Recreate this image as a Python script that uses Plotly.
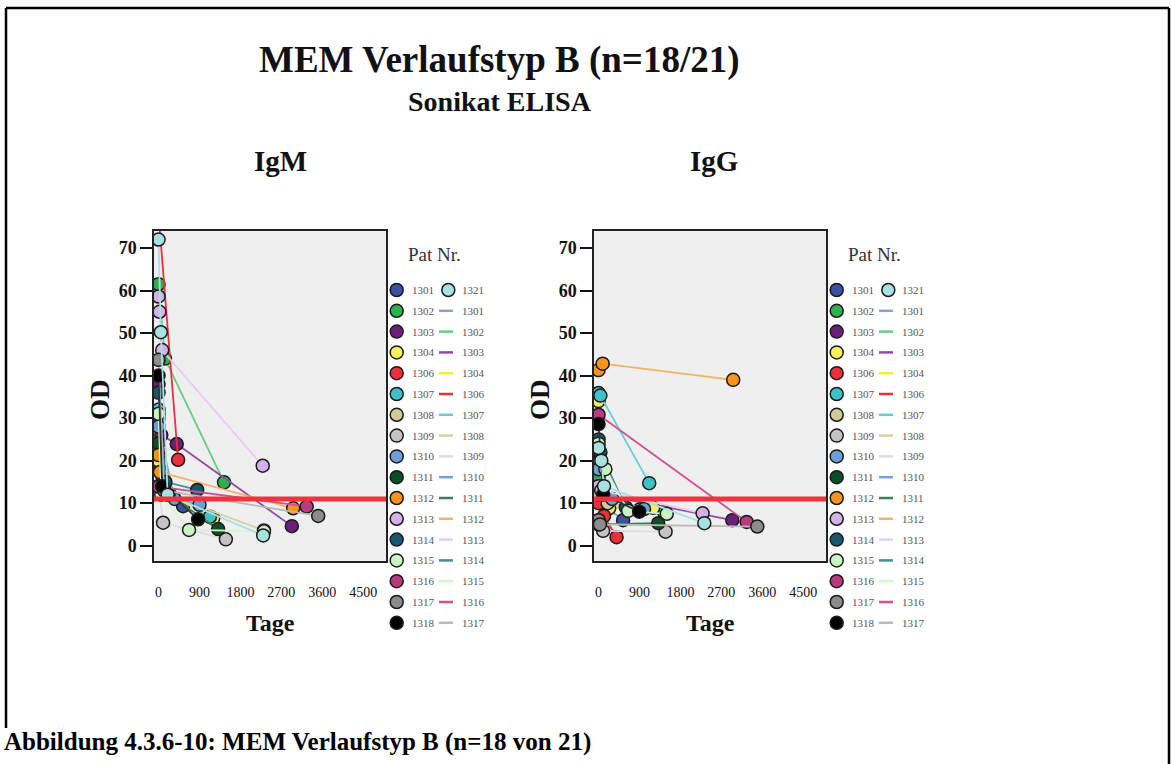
import plotly.graph_objects as go

W, H = 1171, 764

# Patient numbers and their SPSS-style colours
patients = ["1301", "1302", "1303", "1304", "1306", "1307", "1308", "1309", "1310",
            "1311", "1312", "1313", "1314", "1315", "1316", "1317", "1318", "1321"]
marker_colors = ["#3b52a3", "#2bb34b", "#6a1f78", "#f6f05c", "#ec2f3b", "#3ec1c9",
                 "#cfcb95", "#c4c4c4", "#6d9fd6", "#0d4d2a", "#f7941d", "#d5b1ec",
                 "#17566b", "#c9f5c2", "#b83a7f", "#8c8c8c", "#000000", "#a9e1e1"]
line_colors = ["#8ea0da", "#62d07f", "#944aa3", "#f2ec3a", "#ec2f3b", "#5fd2d9",
               "#d6d2a6", "#dedede", "#6fa5dc", "#3d7d58", "#f8b05e", "#e7cdf5",
               "#4a8a9c", "#d2f8ca", "#d24f90", "#b9b9b9", "#333333", "#a9e1e1"]

# IgM: days since first sample and OD per patient (same order as patients)
igm_days = [
    [0, 30, 540],
    [0, 140, 1440],
    [0, 60, 400, 2930],
    [0, 90, 250, 1200],
    [0, 430],
    [0, 120, 1130],
    [0, 200, 2317],
    [0, 100, 1480],
    [0, 350, 900],
    [0, 220, 1310],
    [0, 30, 2960],
    [0, 20, 80, 2290],
    [0, 150, 850],
    [0, 60, 670, 2317],
    [0, 3256],
    [0, 120, 3510],
    [0, 80, 870],
    [0, 50, 200, 2300],
]
igm_od = [
    [30, 18, 9.3],
    [61.5, 44, 14.9],
    [38, 26, 23.9, 4.6],
    [20, 16, 12, 6.4],
    [78, 20.2],
    [32, 14, 6.8],
    [22, 12, 3.6],
    [14, 5.4, 1.5],
    [28, 11, 9.6],
    [24.1, 12, 3.9],
    [21.3, 17.3, 8.8],
    [58.6, 55, 46, 18.8],
    [36, 15, 13.1],
    [31, 12, 3.7, 3.4],
    [13.9, 9.2],
    [43.7, 13, 7.0],
    [40, 14, 6.2],
    [72, 50.2, 12, 2.4],
]

# IgG: days since first sample and OD per patient
igg_days = [
    [0, 60, 540],
    [0, 150, 1440],
    [0, 100, 2940],
    [0, 30, 233, 1200],
    [0, 120, 396],
    [0, 40, 1114],
    [0, 200, 900],
    [0, 100, 1474],
    [0, 300, 1000],
    [0, 1312],
    [0, 90, 2960],
    [0, 60, 2287],
    [0, 40, 600],
    [0, 150, 651, 1500],
    [0, 3256],
    [0, 30, 3490],
    [0, 100, 893],
    [0, 60, 120, 2325],
]
igg_od = [
    [20, 10, 6.0],
    [16, 10, 7.9],
    [14, 12, 6.0],
    [34, 20, 8.8, 8.9],
    [10, 7, 2.0],
    [35.9, 35.3, 14.7],
    [12, 10, 8.5],
    [6, 3.5, 3.3],
    [18, 11, 8.6],
    [5.0, 5.3],
    [41.3, 42.8, 39.0],
    [14, 13, 7.6],
    [25, 22, 9],
    [24, 18, 8.2, 7.5],
    [30.8, 5.6],
    [6, 5, 4.5],
    [28.6, 12, 8.0],
    [23, 20, 14, 5.3],
]

cutoff_od = 11
x_tickvals = [0, 900, 1800, 2700, 3600, 4500]
y_tickvals = [0, 10, 20, 30, 40, 50, 60, 70]

# legend columns: first column markers, second column 1321 marker then line samples
legend_col1 = patients[:17]
legend_col2 = [("marker", "1321")] + [("line", p) for p in patients[:16]]

SERIF = "Liberation Serif"


def fx(px):
    return px / W


def fy(py):
    return 1 - py / H


fig = go.Figure()

panels = [("x", "y", igm_days, igm_od), ("x2", "y2", igg_days, igg_od)]
for xa, ya, days, ods in panels:
    for i, p in enumerate(patients):
        fig.add_trace(go.Scatter(
            x=days[i], y=ods[i], xaxis=xa, yaxis=ya, mode="lines+markers",
            name=p, showlegend=False, cliponaxis=True,
            line=dict(color=line_colors[i], width=1.8),
            marker=dict(size=13, color=marker_colors[i],
                        line=dict(color="#1a1a1a", width=1.5)),
        ))

plot_top, plot_bottom = 231, 561
panel_x = [(154, 386), (594, 826)]

axis_common_x = dict(
    range=[-100, 5000], tickvals=x_tickvals, ticktext=[str(v) for v in x_tickvals],
    ticks="outside", ticklen=17, tickcolor="rgba(0,0,0,0)",
    showgrid=False, zeroline=False, showline=True, mirror=True,
    linecolor="#222222", linewidth=1.5,
    tickfont=dict(family=SERIF, size=14, color="#111111"),
)
axis_common_y = dict(
    range=[-3.6, 74], tickvals=y_tickvals, ticks="outside", ticklen=12,
    tickwidth=2, tickcolor="#111111",
    showgrid=False, zeroline=False, showline=True, mirror=True,
    linecolor="#222222", linewidth=1.5,
    tickfont=dict(family=SERIF, size=18, color="#111111", weight="bold"),
)

fig.update_layout(
    xaxis=dict(domain=[fx(panel_x[0][0]), fx(panel_x[0][1])], anchor="y", **axis_common_x),
    yaxis=dict(domain=[fy(plot_bottom), fy(plot_top)], anchor="x", **axis_common_y),
    xaxis2=dict(domain=[fx(panel_x[1][0]), fx(panel_x[1][1])], anchor="y2", **axis_common_x),
    yaxis2=dict(domain=[fy(plot_bottom), fy(plot_top)], anchor="x2", **axis_common_y),
)

shapes = []
annotations = []

# plot background, cut-off line and axis titles
for k, (x0, x1) in enumerate(panel_x):
    xr = "x domain" if k == 0 else "x2 domain"
    yr = "y" if k == 0 else "y2"
    shapes.append(dict(type="rect", xref=xr, yref=yr + " domain",
                       x0=0, x1=1, y0=0, y1=1, fillcolor="#efefef",
                       line=dict(width=0), layer="below"))
    shapes.append(dict(type="line", xref=xr, yref=yr, x0=0, x1=1,
                       y0=cutoff_od, y1=cutoff_od,
                       line=dict(color="#ee3340", width=5), layer="above"))

    cx = (x0 + x1) / 2
    annotations.append(dict(text="<b>Tage</b>", x=fx(cx), y=fy(623), xref="paper", yref="paper",
                            showarrow=False, xanchor="center", yanchor="middle",
                            font=dict(family=SERIF, size=24, color="#111111")))
    annotations.append(dict(text="<b>OD</b>", x=fx(x0 - 54), y=fy(400), xref="paper", yref="paper",
                            showarrow=False, xanchor="center", yanchor="middle", textangle=-90,
                            font=dict(family=SERIF, size=27, color="#111111")))

# legends
for off in (0, 440):
    annotations.append(dict(text="Pat Nr.", x=fx(406 + off), y=fy(255), xref="paper", yref="paper",
                            showarrow=False, xanchor="left", yanchor="middle",
                            font=dict(family=SERIF, size=19, color="#333333")))
    for r in range(17):
        yc = 290 + r * 20.8
        # first column: marker
        i = patients.index(legend_col1[r])
        cx = 396.7 + off
        shapes.append(dict(type="circle", xref="paper", yref="paper",
                           x0=fx(cx - 6.5), x1=fx(cx + 6.5), y0=fy(yc + 6.5), y1=fy(yc - 6.5),
                           fillcolor=marker_colors[i], line=dict(color="#1a1a1a", width=1.5)))
        annotations.append(dict(text=legend_col1[r], x=fx(410 + off), y=fy(yc), xref="paper",
                                yref="paper", showarrow=False, xanchor="left", yanchor="middle",
                                font=dict(family=SERIF, size=11, color="#555555")))
        kind, p = legend_col2[r]
        j = patients.index(p)
        if kind == "marker":
            cx2 = 448.3 + off
            shapes.append(dict(type="circle", xref="paper", yref="paper",
                               x0=fx(cx2 - 6.5), x1=fx(cx2 + 6.5), y0=fy(yc + 6.5), y1=fy(yc - 6.5),
                               fillcolor=marker_colors[j], line=dict(color="#1a1a1a", width=1.5)))
        else:
            shapes.append(dict(type="line", xref="paper", yref="paper",
                               x0=fx(439 + off), x1=fx(453 + off), y0=fy(yc), y1=fy(yc),
                               line=dict(color=line_colors[j], width=2.5)))
        annotations.append(dict(text=p, x=fx(460 + off), y=fy(yc), xref="paper",
                                yref="paper", showarrow=False, xanchor="left", yanchor="middle",
                                font=dict(family=SERIF, size=11, color="#555555")))

# titles
annotations += [
    dict(text="<b>MEM Verlaufstyp B (n=18/21)</b>", x=fx(500), y=fy(60), xref="paper", yref="paper",
         showarrow=False, xanchor="center", yanchor="middle",
         font=dict(family=SERIF, size=37, color="#111111")),
    dict(text="<b>Sonikat ELISA</b>", x=fx(500), y=fy(101), xref="paper", yref="paper",
         showarrow=False, xanchor="center", yanchor="middle",
         font=dict(family=SERIF, size=28, color="#111111")),
    dict(text="<b>IgM</b>", x=fx(280), y=fy(161), xref="paper", yref="paper",
         showarrow=False, xanchor="center", yanchor="middle",
         font=dict(family=SERIF, size=29, color="#111111")),
    dict(text="<b>IgG</b>", x=fx(714), y=fy(161), xref="paper", yref="paper",
         showarrow=False, xanchor="center", yanchor="middle",
         font=dict(family=SERIF, size=29, color="#111111")),
    dict(text="<b>Abbildung 4.3.6-10: MEM Verlaufstyp B (n=18 von 21)</b>", x=fx(2), y=fy(742),
         xref="paper", yref="paper", showarrow=False, xanchor="left", yanchor="middle",
         font=dict(family=SERIF, size=25, color="#000000")),
]

# page frame
shapes += [
    dict(type="line", xref="paper", yref="paper", x0=fx(6), x1=fx(1169), y0=fy(8), y1=fy(8),
         line=dict(color="#000000", width=2.5)),
    dict(type="line", xref="paper", yref="paper", x0=fx(6), x1=fx(6), y0=fy(8), y1=fy(728),
         line=dict(color="#000000", width=2.5)),
    dict(type="line", xref="paper", yref="paper", x0=fx(1169), x1=fx(1169), y0=fy(8), y1=fy(770),
         line=dict(color="#000000", width=2.5)),
]

fig.update_layout(
    width=W, height=H, margin=dict(l=0, r=0, t=0, b=0, pad=0),
    paper_bgcolor="#ffffff", plot_bgcolor="rgba(0,0,0,0)",
    shapes=shapes, annotations=annotations, showlegend=False,
)

fig.write_html("out.html")
